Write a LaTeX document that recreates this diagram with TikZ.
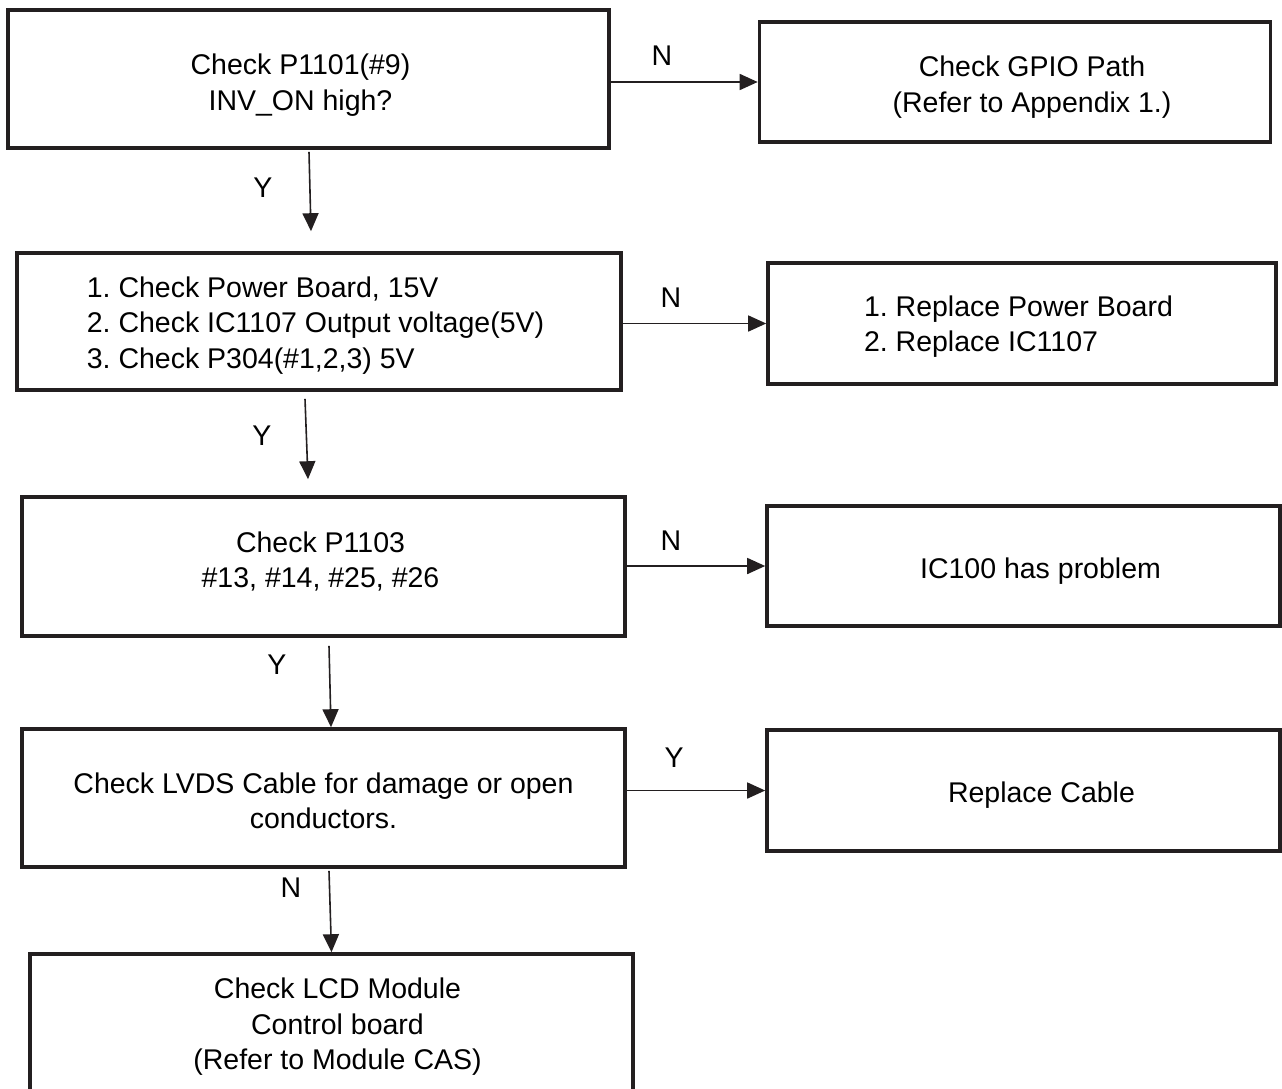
\documentclass[tikz,border=0pt]{standalone}
\usepackage{fontspec}
\setmainfont{Liberation Sans}
\usetikzlibrary{arrows.meta}
\definecolor{ink}{HTML}{231F20}
\frenchspacing

\begin{document}
\begin{tikzpicture}[x=1pt, y=-1pt,
    box/.style={rectangle, draw=ink, line width=3.6pt, inner sep=0pt},
    txt/.style={inner sep=0pt, font=\fontsize{28.5}{35.5}\selectfont, text=black},
    flow/.style={draw=ink, line width=1.6pt, -{Triangle[length=18pt, width=16pt]}},
    yn/.style={font=\fontsize{28.5}{34}\selectfont, inner sep=0pt}]
    \useasboundingbox (0,0) rectangle (1282,1088);
    \clip (0,0) rectangle (1282,1088);
    % left column
    \node[box, minimum width=601pt, minimum height=138pt](chk)at(308.5,79){};
    \node[txt, align=center](chkt)at([shift={(-8,6)}]chk.center)
        {Check P1101(\#9)\\INV\_ON high?};
    \node[box, minimum width=604pt, minimum height=137pt](pwr)at(319,321.5){};
    \node[txt, align=left](pwrt)at([shift={(-3.5,4)}]pwr.center)
        {1. Check Power Board, 15V\\2. Check IC1107 Output voltage(5V)\\3. Check P304(\#1,2,3) 5V};
    \node[box, minimum width=603pt, minimum height=139pt](p1103)at(323.5,566.5){};
    \node[txt, align=center](p1103t)at([shift={(-3,-5)}]p1103.center)
        {Check P1103\\\#13, \#14, \#25, \#26};
    \node[box, minimum width=603pt, minimum height=138pt](lvds)at(323.5,798){};
    \node[txt, align=center](lvdst)at([shift={(0,3)}]lvds.center)
        {Check LVDS Cable for damage or open\\conductors.};
    \node[box, minimum width=603pt, minimum height=140pt](lcd)at(331.5,1024){};
    \node[txt, align=center](lcdt)at([shift={(6,3)}]lcd.center)
        {Check LCD Module\\Control board\\(Refer to Module CAS)};
    % right column
    \node[box, minimum width=511pt, minimum height=120pt](gpio)at(1015,82){};
    \node[txt, align=center](gpiot)at([shift={(17,5)}]gpio.center)
        {Check GPIO Path\\(Refer to Appendix 1.)};
    \node[box, minimum width=508pt, minimum height=121pt](rep)at(1022,323.5){};
    \node[txt, align=left](rept)at([shift={(-3.5,3)}]rep.center)
        {1. Replace Power Board\\2. Replace IC1107};
    \node[box, minimum width=513pt, minimum height=120pt](ic)at(1023.5,566){};
    \node[txt](ict)at([shift={(17,5)}]ic.center){IC100 has problem};
    \node[box, minimum width=513pt, minimum height=121pt](cab)at(1023.5,790.5){};
    \node[txt](cabt)at([shift={(18,5)}]cab.center){Replace Cable};

    % connectors
    \draw[flow] ([shift={(0.5pt,-2pt)}]chk.south) -- ([shift={(-8pt,20pt)}]pwr.north);
    \draw[flow] ([shift={(-14pt,-7pt)}]pwr.south) -- ([shift={(-15.5pt,16pt)}]p1103.north);
    \draw[flow] ([shift={(5.5pt,-8pt)}]p1103.south) -- ([xshift=7.5pt]lvds.north);
    \draw[flow] ([shift={(5.5pt,-2pt)}]lvds.south) -- (lcd.north);
    \draw[flow] (chk.east |- gpio.west) -- (gpio.west);
    \draw[flow] (pwr.east |- rep.west) -- (rep.west);
    \draw[flow] (p1103.east |- ic.west) -- (ic.west);
    \draw[flow] (lvds.east |- cab.west) -- (cab.west);

    % Y / N marks
    \node[yn](y1)at(263,188){Y};
    \node[yn](y2)at(262,436){Y};
    \node[yn](y3)at(277,665){Y};
    \node[yn](n4)at(291,888){N};
    \node[yn](n1)at(662,56){N};
    \node[yn](n2)at(671,298){N};
    \node[yn](n3)at(671,541){N};
    \node[yn](y4)at(674,758){Y};
\end{tikzpicture}
\end{document}
